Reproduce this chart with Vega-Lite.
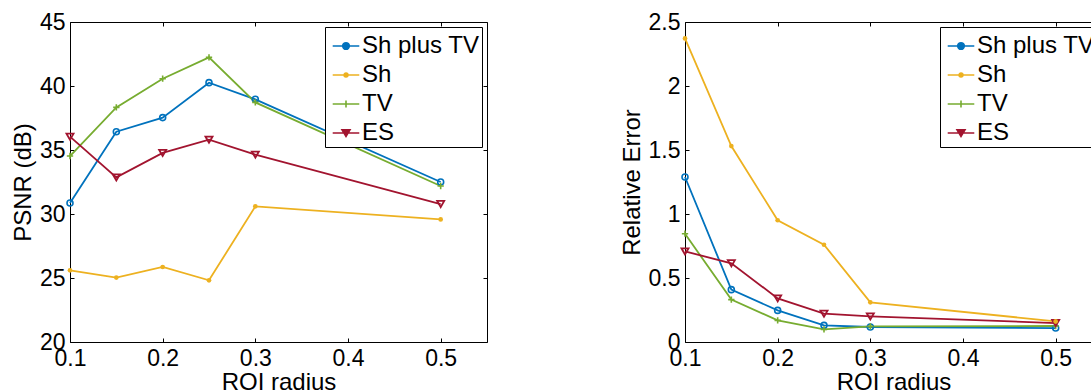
{
  "$schema": "https://vega.github.io/schema/vega-lite/v6.json",
  "background": "white",
  "padding": {"left": 10, "top": 10, "right": 0, "bottom": 0},
  "datasets": {
    "roi": [
      {"r": 0.1, "series": "Sh plus TV", "psnr": 30.86, "err": 1.289},
      {"r": 0.15, "series": "Sh plus TV", "psnr": 36.43, "err": 0.409},
      {"r": 0.2, "series": "Sh plus TV", "psnr": 37.53, "err": 0.247},
      {"r": 0.25, "series": "Sh plus TV", "psnr": 40.26, "err": 0.13},
      {"r": 0.3, "series": "Sh plus TV", "psnr": 38.96, "err": 0.117},
      {"r": 0.5, "series": "Sh plus TV", "psnr": 32.5, "err": 0.109},
      {"r": 0.1, "series": "Sh", "psnr": 25.6, "err": 2.372},
      {"r": 0.15, "series": "Sh", "psnr": 25.03, "err": 1.531},
      {"r": 0.2, "series": "Sh", "psnr": 25.86, "err": 0.951},
      {"r": 0.25, "series": "Sh", "psnr": 24.82, "err": 0.76},
      {"r": 0.3, "series": "Sh", "psnr": 30.6, "err": 0.31},
      {"r": 0.5, "series": "Sh", "psnr": 29.58, "err": 0.161},
      {"r": 0.1, "series": "TV", "psnr": 34.53, "err": 0.846},
      {"r": 0.15, "series": "TV", "psnr": 38.33, "err": 0.331},
      {"r": 0.2, "series": "TV", "psnr": 40.57, "err": 0.169},
      {"r": 0.25, "series": "TV", "psnr": 42.24, "err": 0.099},
      {"r": 0.3, "series": "TV", "psnr": 38.72, "err": 0.122},
      {"r": 0.5, "series": "TV", "psnr": 32.19, "err": 0.125},
      {"r": 0.1, "series": "ES", "psnr": 36.04, "err": 0.708},
      {"r": 0.15, "series": "ES", "psnr": 32.86, "err": 0.615},
      {"r": 0.2, "series": "ES", "psnr": 34.77, "err": 0.341},
      {"r": 0.25, "series": "ES", "psnr": 35.81, "err": 0.221},
      {"r": 0.3, "series": "ES", "psnr": 34.64, "err": 0.2},
      {"r": 0.5, "series": "ES", "psnr": 30.78, "err": 0.148}
    ]
  },
  "data": {"name": "roi"},
  "spacing": 131,
  "resolve": {"scale": {"color": "independent"}, "legend": {"color": "independent"}},
  "hconcat": [
    {
      "width": 417,
      "height": 320,
      "layer": [
        {
          "mark": {"type": "line", "strokeWidth": 1.8},
          "encoding": {
            "x": {"field": "r", "type": "quantitative", "scale": {"domain": [0.1, 0.55], "nice": false, "zero": false}, "axis": {"title": "ROI radius", "values": [0.1, 0.2, 0.3, 0.4, 0.5], "format": ".1f", "labelPadding": 9, "titlePadding": 0, "labelFlush": false, "labelOverlap": false}},
            "y": {"field": "psnr", "type": "quantitative", "scale": {"domain": [20, 45], "nice": false, "zero": false}, "axis": {"title": "PSNR (dB)", "values": [20, 25, 30, 35, 40, 45], "format": "~g", "labelPadding": 9, "titlePadding": 4, "labelOverlap": false}},
            "color": {"field": "series", "type": "nominal", "scale": {"domain": ["Sh plus TV", "Sh", "TV", "ES"], "range": ["#0072BD", "#EDB120", "#77AC30", "#A2142F"]},
              "legend": {"title": null, "orient": "top-right", "offset": 5, "strokeColor": "black", "fillColor": "white", "padding": 2, "labelFontSize": 24, "labelColor": "black", "labelOffset": 1, "symbolSize": 1024, "symbolStrokeWidth": 1.6, "rowPadding": -0.5,
                "encode": {"symbols": {"update": {
                  "shape": {"signal": "datum.value === 'Sh plus TV' ? 'M-0.706,0L0.956,0M-0.081,0A0.206,0.206 0 1,0 0.331,0A0.206,0.206 0 1,0 -0.081,0' : datum.value === 'Sh' ? 'M-0.706,0L0.956,0M0.005,0A0.12,0.12 0 1,0 0.245,0A0.12,0.12 0 1,0 0.005,0' : datum.value === 'TV' ? 'M-0.706,0L0.956,0M0.125,-0.22L0.125,0.22' : 'M-0.706,0L0.956,0M-0.125,-0.2L0.375,-0.2L0.125,0.22Z'"},
                  "fill": {"signal": "datum.value === 'Sh' ? '#EDB120' : 'transparent'"}
                }}}}
            },
            "detail": {"field": "series"}
          }
        },
        {
          "transform": [{"filter": "datum.series === 'Sh plus TV'"}],
          "mark": {"type": "point", "shape": "circle", "filled": false, "size": 36, "strokeWidth": 1.6, "opacity": 1},
          "encoding": {
            "x": {"field": "r", "type": "quantitative", "axis": null},
            "y": {"field": "psnr", "type": "quantitative", "axis": null},
            "color": {"field": "series", "type": "nominal", "legend": null}
          }
        },
        {
          "transform": [{"filter": "datum.series === 'TV'"}],
          "mark": {"type": "point", "shape": "M-1,0L1,0M0,-1L0,1", "filled": false, "size": 40, "strokeWidth": 1.6, "opacity": 1},
          "encoding": {
            "x": {"field": "r", "type": "quantitative", "axis": null},
            "y": {"field": "psnr", "type": "quantitative", "axis": null},
            "color": {"field": "series", "type": "nominal", "legend": null}
          }
        },
        {
          "transform": [{"filter": "datum.series === 'ES'"}],
          "mark": {"type": "point", "shape": "triangle-down", "filled": false, "size": 50, "strokeWidth": 1.8, "opacity": 1},
          "encoding": {
            "x": {"field": "r", "type": "quantitative", "axis": null},
            "y": {"field": "psnr", "type": "quantitative", "axis": null},
            "color": {"field": "series", "type": "nominal", "legend": null}
          }
        },
        {
          "transform": [{"filter": "datum.series === 'Sh'"}],
          "mark": {"type": "point", "shape": "circle", "filled": true, "size": 22, "opacity": 1},
          "encoding": {
            "x": {"field": "r", "type": "quantitative", "axis": {"orient": "top", "labels": false, "title": null, "values": [0.1, 0.2, 0.3, 0.4, 0.5], "minExtent": 0, "maxExtent": 0}},
            "y": {"field": "psnr", "type": "quantitative", "axis": {"orient": "right", "labels": false, "title": null, "values": [20, 25, 30, 35, 40, 45], "minExtent": 0, "maxExtent": 0}},
            "color": {"field": "series", "type": "nominal", "legend": null}
          }
        }
      ],
      "resolve": {"axis": {"x": "independent", "y": "independent"}}
    },
    {
      "width": 417,
      "height": 320,
      "layer": [
        {
          "mark": {"type": "line", "strokeWidth": 1.8},
          "encoding": {
            "x": {"field": "r", "type": "quantitative", "scale": {"domain": [0.1, 0.55], "nice": false, "zero": false}, "axis": {"title": "ROI radius", "values": [0.1, 0.2, 0.3, 0.4, 0.5], "format": ".1f", "labelPadding": 9, "titlePadding": 0, "labelFlush": false, "labelOverlap": false}},
            "y": {"field": "err", "type": "quantitative", "scale": {"domain": [0, 2.5], "nice": false, "zero": false}, "axis": {"title": "Relative Error", "values": [0, 0.5, 1, 1.5, 2, 2.5], "format": "~g", "labelPadding": 9, "titlePadding": 4, "labelOverlap": false}},
            "color": {"field": "series", "type": "nominal", "scale": {"domain": ["Sh plus TV", "Sh", "TV", "ES"], "range": ["#0072BD", "#EDB120", "#77AC30", "#A2142F"]},
              "legend": {"title": null, "orient": "top-right", "offset": 5, "strokeColor": "black", "fillColor": "white", "padding": 2, "labelFontSize": 24, "labelColor": "black", "labelOffset": 1, "symbolSize": 1024, "symbolStrokeWidth": 1.6, "rowPadding": -0.5,
                "encode": {"symbols": {"update": {
                  "shape": {"signal": "datum.value === 'Sh plus TV' ? 'M-0.706,0L0.956,0M-0.081,0A0.206,0.206 0 1,0 0.331,0A0.206,0.206 0 1,0 -0.081,0' : datum.value === 'Sh' ? 'M-0.706,0L0.956,0M0.005,0A0.12,0.12 0 1,0 0.245,0A0.12,0.12 0 1,0 0.005,0' : datum.value === 'TV' ? 'M-0.706,0L0.956,0M0.125,-0.22L0.125,0.22' : 'M-0.706,0L0.956,0M-0.125,-0.2L0.375,-0.2L0.125,0.22Z'"},
                  "fill": {"signal": "datum.value === 'Sh' ? '#EDB120' : 'transparent'"}
                }}}}
            },
            "detail": {"field": "series"}
          }
        },
        {
          "transform": [{"filter": "datum.series === 'Sh plus TV'"}],
          "mark": {"type": "point", "shape": "circle", "filled": false, "size": 36, "strokeWidth": 1.6, "opacity": 1},
          "encoding": {
            "x": {"field": "r", "type": "quantitative", "axis": null},
            "y": {"field": "err", "type": "quantitative", "axis": null},
            "color": {"field": "series", "type": "nominal", "legend": null}
          }
        },
        {
          "transform": [{"filter": "datum.series === 'TV'"}],
          "mark": {"type": "point", "shape": "M-1,0L1,0M0,-1L0,1", "filled": false, "size": 40, "strokeWidth": 1.6, "opacity": 1},
          "encoding": {
            "x": {"field": "r", "type": "quantitative", "axis": null},
            "y": {"field": "err", "type": "quantitative", "axis": null},
            "color": {"field": "series", "type": "nominal", "legend": null}
          }
        },
        {
          "transform": [{"filter": "datum.series === 'ES'"}],
          "mark": {"type": "point", "shape": "triangle-down", "filled": false, "size": 50, "strokeWidth": 1.8, "opacity": 1},
          "encoding": {
            "x": {"field": "r", "type": "quantitative", "axis": null},
            "y": {"field": "err", "type": "quantitative", "axis": null},
            "color": {"field": "series", "type": "nominal", "legend": null}
          }
        },
        {
          "transform": [{"filter": "datum.series === 'Sh'"}],
          "mark": {"type": "point", "shape": "circle", "filled": true, "size": 22, "opacity": 1},
          "encoding": {
            "x": {"field": "r", "type": "quantitative", "axis": {"orient": "top", "labels": false, "title": null, "values": [0.1, 0.2, 0.3, 0.4, 0.5], "minExtent": 0, "maxExtent": 0}},
            "y": {"field": "err", "type": "quantitative", "axis": {"orient": "right", "labels": false, "title": null, "values": [0, 0.5, 1, 1.5, 2, 2.5], "minExtent": 0, "maxExtent": 0}},
            "color": {"field": "series", "type": "nominal", "legend": null}
          }
        }
      ],
      "resolve": {"axis": {"x": "independent", "y": "independent"}}
    }
  ],
  "config": {
    "font": "Liberation Sans",
    "view": {"stroke": "black", "strokeWidth": 1},
    "axis": {"labelFontSize": 23, "titleFontSize": 24, "labelColor": "black", "titleColor": "black", "titleFontWeight": "normal", "grid": false, "domain": false, "tickColor": "black", "tickSize": -4, "tickWidth": 1},
    "legend": {"labelFont": "Liberation Sans"}
  }
}
